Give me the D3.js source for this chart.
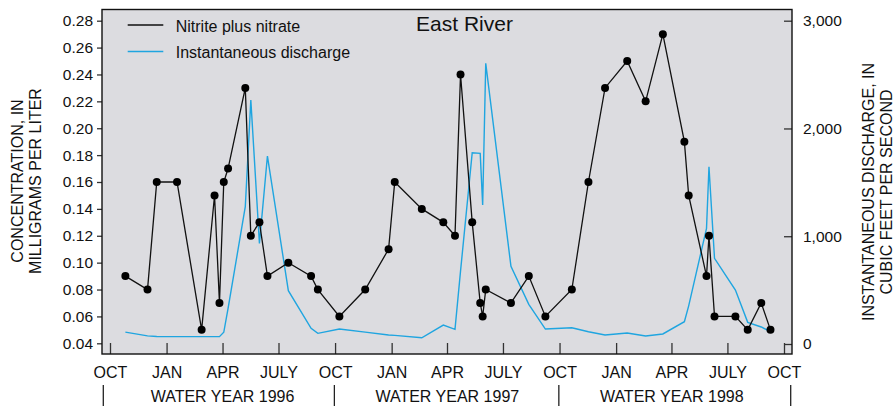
<!DOCTYPE html>
<html>
<head>
<meta charset="utf-8">
<script src="https://cdn.jsdelivr.net/npm/d3@7"></script>
<style>
  html, body { margin: 0; padding: 0; background: #ffffff; }
  svg { display: block; font-family: "Liberation Sans", Arial, Helvetica, sans-serif; }
</style>
</head>
<body>
<svg id="chart" width="894" height="406"></svg>
<script>
// Sampling dates, East River, water years 1996-1998
const sampleDates = [
  "1995-10-26", "1995-12-01", "1995-12-16", "1996-01-18", "1996-02-27", "1996-03-19",
  "1996-03-27", "1996-04-03", "1996-04-10", "1996-05-08", "1996-05-17", "1996-05-31",
  "1996-06-13", "1996-07-17", "1996-08-23", "1996-09-03",
  "1996-10-08", "1996-11-19", "1996-12-27", "1997-01-06", "1997-02-19", "1997-03-26",
  "1997-04-14", "1997-04-23", "1997-05-12", "1997-05-25", "1997-05-29", "1997-06-03",
  "1997-07-14", "1997-08-12", "1997-09-08",
  "1997-10-21", "1997-11-17", "1997-12-14", "1998-01-19", "1998-02-18", "1998-03-18",
  "1998-04-22", "1998-04-29", "1998-05-28", "1998-06-01", "1998-06-10", "1998-07-14",
  "1998-08-03", "1998-08-25", "1998-09-09"
];

// Nitrite plus nitrate, milligrams per liter
const nitriteNitrate = [
  0.09, 0.08, 0.16, 0.16, 0.05, 0.15, 0.07, 0.16, 0.17, 0.23, 0.12, 0.13, 0.09, 0.10, 0.09, 0.08,
  0.06, 0.08, 0.11, 0.16, 0.14, 0.13, 0.12, 0.24, 0.13, 0.07, 0.06, 0.08, 0.07, 0.09, 0.06,
  0.08, 0.16, 0.23, 0.25, 0.22, 0.27, 0.19, 0.15, 0.09, 0.12, 0.06, 0.06, 0.05, 0.07, 0.05
];

// Instantaneous discharge at sampling time, cubic feet per second
const discharge = [
  110, 75, 70, 68, 68, 68, 68, 109, 330, 1274, 2263, 934, 1744, 495, 146, 99,
  139, 110, 84, 80, 58, 176, 136, 676, 1775, 1769, 1289, 2604, 720, 368, 139,
  151, 114, 83, 102, 74, 93, 207, 354, 1073, 1645, 795, 501, 201, 158, 114
];

const concTicks = [0.04, 0.06, 0.08, 0.10, 0.12, 0.14, 0.16, 0.18, 0.20, 0.22, 0.24, 0.26, 0.28];
const dischargeTicks = [0, 1000, 2000, 3000];
const monthTickDates = [
  "1995-10-01", "1996-01-01", "1996-04-01", "1996-07-01",
  "1996-10-01", "1997-01-01", "1997-04-01", "1997-07-01",
  "1997-10-01", "1998-01-01", "1998-04-01", "1998-07-01", "1998-10-01"
];
const monthLabels = ["OCT", "JAN", "APR", "JULY", "OCT", "JAN", "APR", "JULY", "OCT", "JAN", "APR", "JULY", "OCT"];
const waterYears = [1996, 1997, 1998];

const parse = d3.timeParse("%Y-%m-%d");
const dates = sampleDates.map(parse);
const monthTicks = monthTickDates.map(parse);
const concData = dates.map((d, i) => ({ date: d, v: nitriteNitrate[i] }));
const flowData = dates.map((d, i) => ({ date: d, v: discharge[i] }));

const svg = d3.select("#chart");
const frame = { left: 102, top: 9.5, right: 792, bottom: 354 };
const FONT = 16;

const x = d3.scaleTime()
  .domain([parse("1995-10-01"), parse("1998-10-01")])
  .range([110, 784]);
const yConc = d3.scaleLinear().domain([0.04, 0.28]).range([343.3, 20.7]);
const yFlow = d3.scaleLinear().domain([0, 3000]).range([344, 20.7]);

// plot panel
svg.append("rect")
  .attr("x", frame.left).attr("y", frame.top)
  .attr("width", frame.right - frame.left).attr("height", frame.bottom - frame.top)
  .attr("fill", "#dcdce0");

// left axis: concentration
const leftAxis = svg.append("g")
  .attr("transform", `translate(${frame.left},0)`)
  .call(d3.axisLeft(yConc).tickValues(concTicks).tickFormat(d3.format(".2f")).tickSize(5).tickPadding(4));
leftAxis.select(".domain").remove();
leftAxis.selectAll("text").attr("font-size", 15.5).attr("fill", "#111");
leftAxis.selectAll("line").attr("stroke", "#333").attr("stroke-width", 1.3);

// right axis: discharge (ticks point inward)
const rightAxis = svg.append("g")
  .attr("transform", `translate(${frame.right},0)`)
  .call(d3.axisRight(yFlow).tickValues(dischargeTicks).tickFormat(d3.format(",")).tickSize(-8).tickPadding(11));
rightAxis.select(".domain").remove();
rightAxis.selectAll("text").attr("font-size", 15.5).attr("fill", "#111");
rightAxis.selectAll("line").attr("stroke", "#333").attr("stroke-width", 1.3);

// bottom axis: months (ticks point inward)
const bottomAxis = svg.append("g")
  .attr("transform", `translate(0,${frame.bottom})`)
  .call(d3.axisBottom(x).tickValues(monthTicks).tickFormat((d, i) => monthLabels[i]).tickSize(-11).tickPadding(13));
bottomAxis.select(".domain").remove();
bottomAxis.selectAll("text").attr("font-size", FONT).attr("fill", "#111");
bottomAxis.selectAll("line").attr("stroke", "#333").attr("stroke-width", 1.3);

// panel border
svg.append("rect")
  .attr("x", frame.left).attr("y", frame.top)
  .attr("width", frame.right - frame.left).attr("height", frame.bottom - frame.top)
  .attr("fill", "none").attr("stroke", "#111").attr("stroke-width", 1.4);

// water-year labels and dividers
const dividerX = [frame.left + 1.3, x(parse("1996-10-01")) - 0.7, x(parse("1997-10-01")) - 0.7, frame.right - 1.3];
svg.append("g").selectAll("line")
  .data(dividerX)
  .join("line")
  .attr("x1", d => d).attr("x2", d => d)
  .attr("y1", 385).attr("y2", 406)
  .attr("stroke", "#222").attr("stroke-width", 1.3);

svg.append("g").selectAll("text")
  .data(waterYears)
  .join("text")
  .attr("x", wy => (x(new Date(wy - 1, 9, 1)) + x(new Date(wy, 9, 1))) / 2)
  .attr("y", 401.5)
  .attr("text-anchor", "middle")
  .attr("font-size", FONT)
  .attr("fill", "#111")
  .text(wy => `WATER YEAR ${wy}`);

// discharge line
const flowLine = d3.line().x(d => x(d.date)).y(d => yFlow(d.v));
svg.append("path")
  .datum(flowData)
  .attr("d", flowLine)
  .attr("fill", "none")
  .attr("stroke", "#1fa5e0")
  .attr("stroke-width", 1.4)
  .attr("stroke-linejoin", "miter");

// concentration line with markers
const concLine = d3.line().x(d => x(d.date)).y(d => yConc(d.v));
svg.append("path")
  .datum(concData)
  .attr("d", concLine)
  .attr("fill", "none")
  .attr("stroke", "#111")
  .attr("stroke-width", 1.3);

svg.append("g").selectAll("circle")
  .data(concData)
  .join("circle")
  .attr("cx", d => x(d.date))
  .attr("cy", d => yConc(d.v))
  .attr("r", 4)
  .attr("fill", "#000");

// title
svg.append("text")
  .attr("x", 464.5).attr("y", 30.5)
  .attr("text-anchor", "middle")
  .attr("font-size", 21)
  .attr("fill", "#111")
  .text("East River");

// legend
const legend = [
  { label: "Nitrite plus nitrate", color: "#111", y: 25 },
  { label: "Instantaneous discharge", color: "#1fa5e0", y: 51.5 }
];
const lg = svg.append("g").selectAll("g").data(legend).join("g");
lg.append("line")
  .attr("x1", 127.7).attr("x2", 163.3)
  .attr("y1", d => d.y).attr("y2", d => d.y)
  .attr("stroke", d => d.color).attr("stroke-width", 1.3);
lg.append("text")
  .attr("x", 175.7).attr("y", d => d.y + 6.5)
  .attr("font-size", FONT)
  .attr("fill", "#111")
  .text(d => d.label);

// axis titles
const leftTitle = svg.append("text")
  .attr("transform", "translate(0,181) rotate(-90)")
  .attr("text-anchor", "middle")
  .attr("font-size", FONT)
  .attr("fill", "#111");
leftTitle.append("tspan").attr("x", 0).attr("y", 23).text("CONCENTRATION, IN");
leftTitle.append("tspan").attr("x", 0).attr("y", 41).text("MILLIGRAMS PER LITER");

const rightTitle = svg.append("text")
  .attr("transform", "translate(0,192) rotate(-90)")
  .attr("text-anchor", "middle")
  .attr("font-size", FONT)
  .attr("fill", "#111");
rightTitle.append("tspan").attr("x", 0).attr("y", 873.5).text("INSTANTANEOUS DISCHARGE, IN");
rightTitle.append("tspan").attr("x", 0).attr("y", 891.5).text("CUBIC FEET PER SECOND");
</script>
</body>
</html>
